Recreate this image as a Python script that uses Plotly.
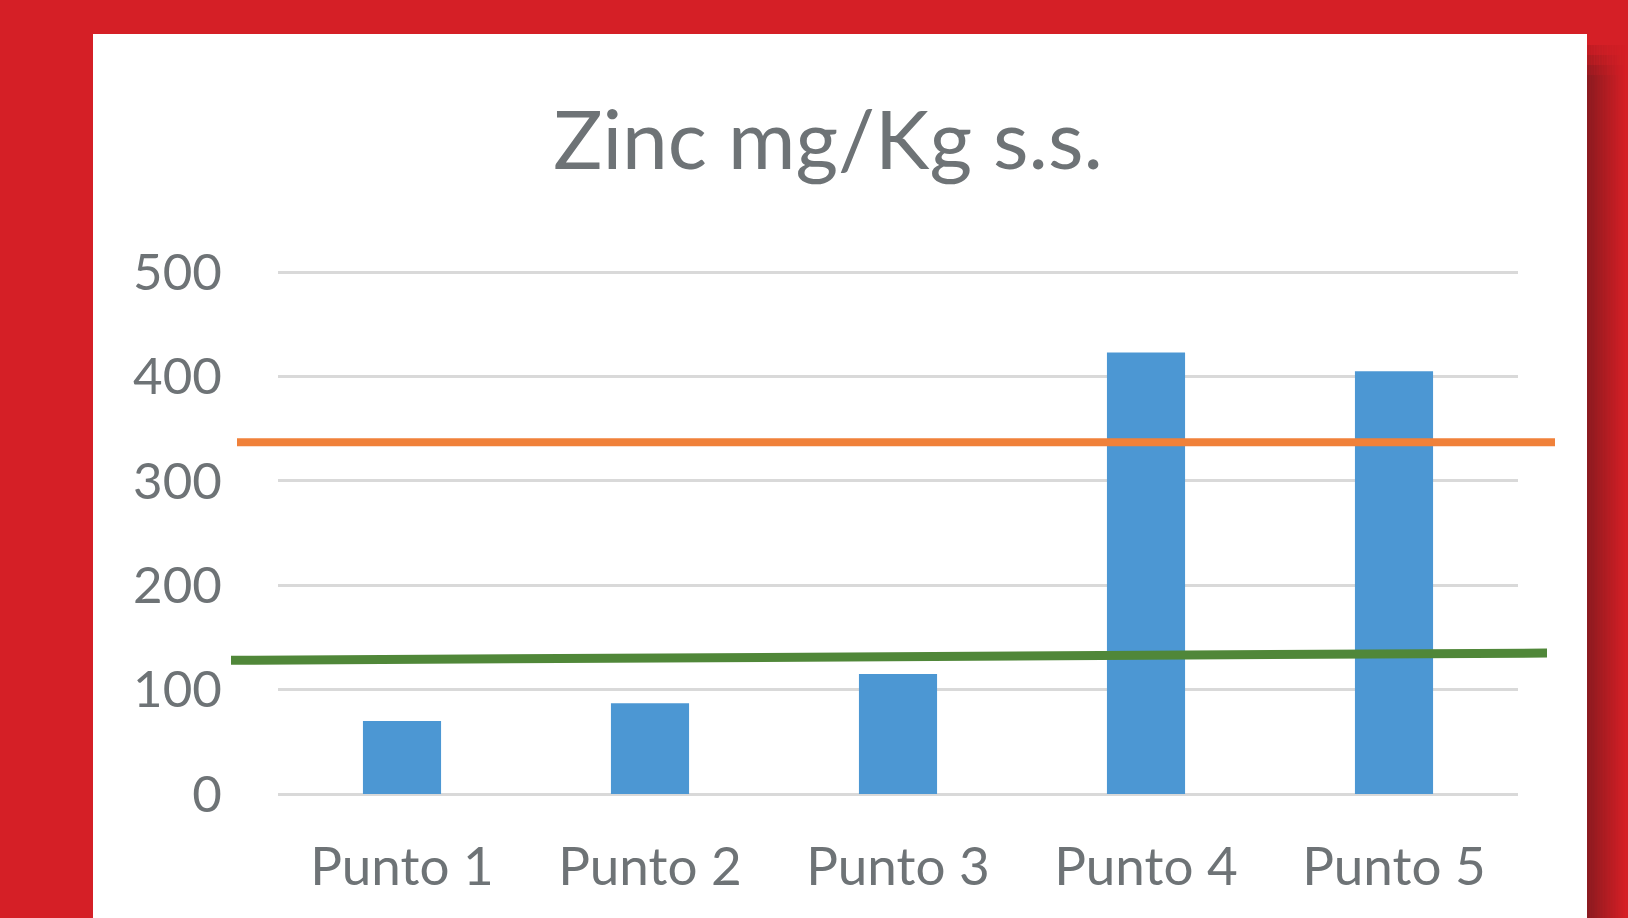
import plotly.graph_objects as go

# ---- data ----
categories = ["Punto 1", "Punto 2", "Punto 3", "Punto 4", "Punto 5"]
zinc_values = [70, 87, 115, 423, 405]
limit_orange = [337, 337]   # start, end value of orange reference line
limit_green = [128, 135]    # start, end value of green reference line
y_ticks = [0, 100, 200, 300, 400, 500]

# ---- layout geometry (pixels) ----
W, H = 1628, 918
L, R = 278, 1518
ZERO_PX, UNIT = 794, 1.044          # pixel of value 0, pixels per unit
T, B = 270, 796
y_max = (ZERO_PX - T) / UNIT
y_min = -(B - ZERO_PX) / UNIT
PW, PH = R - L, B - T


def px(x):
    return (x - L) / PW


def py(y):
    return (B - y) / PH


RED = "#D51F26"
TEXT = "#6E7376"

fig = go.Figure()
fig.add_trace(go.Bar(
    x=categories, y=zinc_values, width=0.315,
    marker=dict(color="#4C97D3", line=dict(width=0)),
    showlegend=False, hoverinfo="x+y",
))

shapes = []
# white panel
shapes.append(dict(type="rect", xref="paper", yref="paper",
                   x0=px(93), x1=px(1587), y0=py(920), y1=py(34),
                   fillcolor="white", line=dict(width=0), layer="below"))
# right shadow gradient
n = 24
c0 = (0x8C, 0x1B, 0x20)
c1 = (0xD5, 0x1F, 0x26)
x_start, x_end = 1587, 1626
for i in range(n):
    t = i / (n - 1)
    col = tuple(int(c0[k] + (c1[k] - c0[k]) * t) for k in range(3))
    xa = x_start + (x_end - x_start) * i / n
    xb = x_start + (x_end - x_start) * (i + 1) / n + 0.5
    shapes.append(dict(type="rect", xref="paper", yref="paper",
                       x0=px(xa), x1=px(xb), y0=py(920), y1=py(75),
                       fillcolor="rgb(%d,%d,%d)" % col, line=dict(width=0), layer="below"))
    for (ya, yb, op) in [(45, 55, 0.2), (55, 65, 0.45), (65, 75, 0.75)]:
        shapes.append(dict(type="rect", xref="paper", yref="paper",
                           x0=px(xa), x1=px(xb), y0=py(yb), y1=py(ya),
                           fillcolor="rgb(%d,%d,%d)" % col, opacity=op,
                           line=dict(width=0), layer="below"))

# reference lines (data values on y axis)
shapes.append(dict(type="line", xref="paper", yref="y",
                   x0=px(237), x1=px(1555), y0=limit_orange[0], y1=limit_orange[1],
                   line=dict(color="#F0813A", width=8), layer="above"))
shapes.append(dict(type="line", xref="paper", yref="y",
                   x0=px(231), x1=px(1547), y0=limit_green[0], y1=limit_green[1],
                   line=dict(color="#508739", width=9), layer="above"))

fig.update_layout(
    width=W, height=H,
    margin=dict(l=L, r=W - R, t=T, b=H - B, pad=0),
    paper_bgcolor=RED, plot_bgcolor="white",
    font=dict(family="Lato", color=TEXT),
    title=dict(text="Zinc mg/Kg s.s.", x=828 / W, xanchor="center",
               y=1 - 140 / H, yanchor="middle",
               font=dict(family="Lato", size=82, color=TEXT)),
    shapes=shapes,
    bargap=0.685,
)
fig.update_xaxes(
    showgrid=False, zeroline=False, showline=False,
    ticks="outside", ticklen=24, tickcolor="rgba(0,0,0,0)",
    tickfont=dict(family="Lato", size=53, color=TEXT),
    range=[-0.5, 4.5],
)
fig.update_yaxes(
    range=[y_min, y_max], tickvals=y_ticks,
    showgrid=True, gridcolor="#D9D9D9", gridwidth=3,
    zeroline=False, showline=False,
    ticks="outside", ticklen=45, tickcolor="rgba(0,0,0,0)",
    tickfont=dict(family="Lato", size=51, color=TEXT),
)

fig.write_html(
    "out.html",
    config={"displayModeBar": False},
    post_script="document.body.style.margin='0';document.body.style.padding='0';"
                "document.body.style.background='#D51F26';document.body.style.overflow='hidden';",
)
